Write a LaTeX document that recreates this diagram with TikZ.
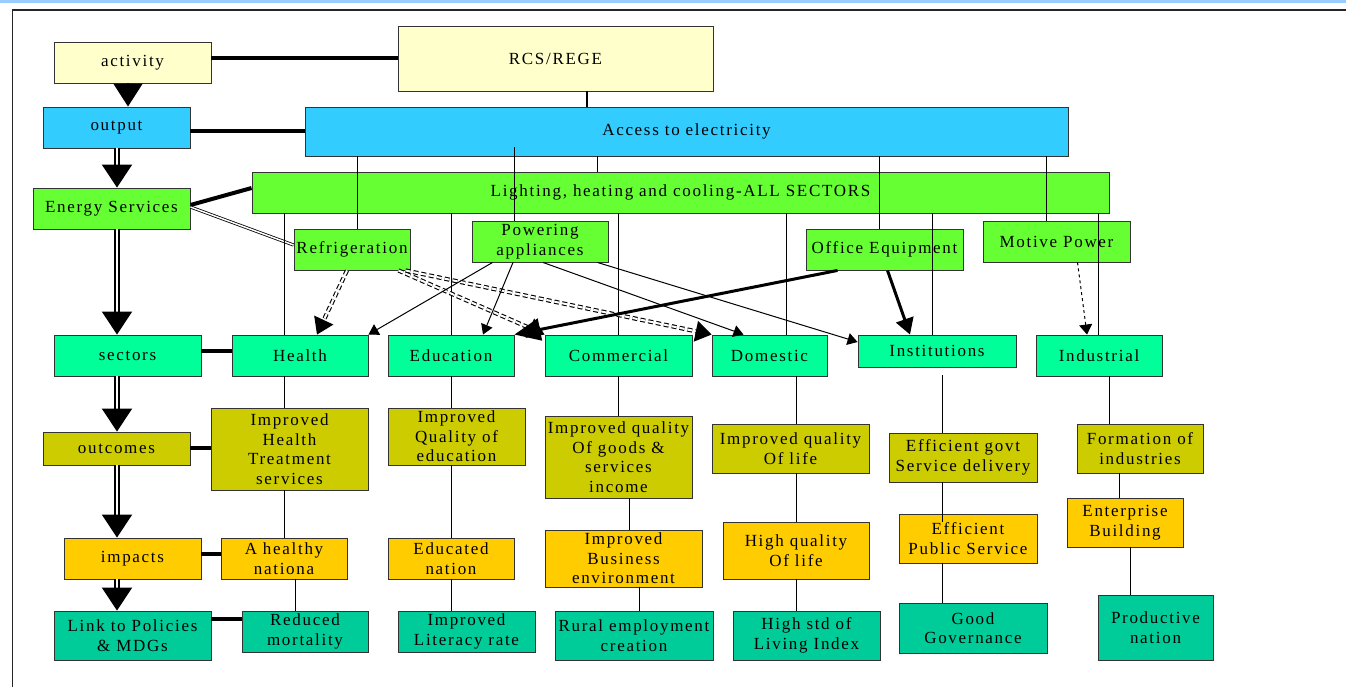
\documentclass[tikz,border=0pt]{standalone}
\usepackage{fontspec}
\setmainfont[LetterSpace=10]{Liberation Serif}
\usetikzlibrary{arrows.meta,calc}

\definecolor{paleyel}{HTML}{FFFFCC}
\definecolor{skyblue}{HTML}{33CCFF}
\definecolor{limegr}{HTML}{66FF33}
\definecolor{mintgr}{HTML}{00FF99}
\definecolor{olive}{HTML}{CCCC00}
\definecolor{amber}{HTML}{FFCC00}
\definecolor{teal}{HTML}{00CC99}
\definecolor{stripe}{HTML}{99CCFF}

\begin{document}
\begin{tikzpicture}[x=1pt, y=-1pt,
  box/.style={draw=black!80, line width=0.9pt, inner sep=0pt, align=center,
    font=\fontsize{17}{19.5}\selectfont},
  sz/.style 2 args={minimum width=#1pt, minimum height=#2pt},
  fat/.style={line width=4.5pt},
  thin/.style={line width=1pt},
  down/.style={double, double distance=2pt, line width=2.2pt,
    -{Triangle[width=30pt,length=23pt]}},
  ddash/.style={double, double distance=2pt, line width=1.1pt,
    dash pattern=on 5pt off 3pt}]

\useasboundingbox (0,0) rectangle (1346,686);

%% frame
\fill[stripe] (0,0) rectangle (1346,3);
\draw[line width=2pt, black!85] (12,9.5) -- (1346,9.5);
\draw[line width=1.3pt, black!85] (12.5,9) -- (12.5,700);

%% top rows
\node[box, fill=paleyel, sz={157}{41}] (activity) at (132.5,62.5) {activity};
\node[box, fill=paleyel, sz={315}{65}] (rcs) at (555.5,58.5) {RCS/REGE};
\node[box, fill=skyblue, sz={147}{41}] (output) at (116.5,127.5) {output};
\node[box, fill=skyblue, sz={763}{49}] (access) at (686.5,131.5) {Access to electricity};
\node[box, fill=limegr, sz={157}{41}] (energy) at (111.5,208.5) {Energy Services};
\node[box, fill=limegr, sz={857}{41}] (light) at (680.5,192.5)
  {Lighting, heating and cooling-ALL SECTORS};
\node[box, fill=limegr, sz={116}{41}] (refrig) at (352,249.5) {Refrigeration};
\node[box, fill=limegr, sz={136}{41}] (power) at (540,241.5) {Powering\\appliances};
\node[box, fill=limegr, sz={157}{41}] (office) at (884.5,249.5) {Office Equipment};
\node[box, fill=limegr, sz={147}{41}] (motive) at (1056.5,241.5) {Motive Power};

%% sectors
\node[box, fill=mintgr, sz={147}{41}] (sectors) at (127.5,355.5) {sectors};
\node[box, fill=mintgr, sz={136}{41}] (health) at (300,355.5) {Health};
\node[box, fill=mintgr, sz={126}{41}] (educ) at (451,355.5) {Education};
\node[box, fill=mintgr, sz={147}{41}] (comm) at (618.5,355.5) {Commercial};
\node[box, fill=mintgr, sz={115}{41}] (domes) at (769.5,355.5) {Domestic};
\node[box, fill=mintgr, sz={158}{32}] (instit) at (937,351) {Institutions};
\node[box, fill=mintgr, sz={126}{41}] (indus) at (1099,355.5) {Industrial};

%% outcomes
\node[box, fill=olive, sz={147}{33}] (outcomes) at (116.5,448.5) {outcomes};
\node[box, fill=olive, sz={157}{82}] (ohealth) at (289.5,449)
  {Improved\\Health\\Treatment\\services};
\node[box, fill=olive, sz={137}{57}] (oeduc) at (456.5,436.5)
  {Improved\\Quality of\\education};
\node[box, fill=olive, sz={147}{82}] (ocomm) at (618.5,457)
  {Improved quality\\Of goods \&\\services\\income};
\node[box, fill=olive, sz={157}{49}] (odomes) at (790.5,448.5)
  {Improved quality\\Of life};
\node[box, fill=olive, sz={148}{49}] (oinstit) at (963,457.5)
  {Efficient govt\\Service delivery};
\node[box, fill=olive, sz={126}{49}] (oindus) at (1140,448.5)
  {Formation of\\industries};

%% impacts
\node[box, fill=amber, sz={137}{41}] (impacts) at (132.5,558.5) {impacts};
\node[box, fill=amber, sz={126}{41}] (ihealth) at (284,558.5) {A healthy\\nationa};
\node[box, fill=amber, sz={126}{41}] (ieduc) at (451,558.5) {Educated\\nation};
\node[box, fill=amber, sz={157}{57}] (icomm) at (623.5,558.5)
  {Improved\\Business\\environment};
\node[box, fill=amber, sz={146}{57}] (idomes) at (796,550.5) {High quality\\Of life};
\node[box, fill=amber, sz={138}{49}] (iinstit) at (968,538.5)
  {Efficient\\Public Service};
\node[box, fill=amber, sz={116}{49}] (iindus) at (1125,522.5) {Enterprise\\Building};

%% links
\node[box, fill=teal, sz={157}{49}] (link) at (132.5,635.5)
  {Link to Policies\\\& MDGs};
\node[box, fill=teal, sz={126}{41}] (lhealth) at (305,631.5) {Reduced\\mortality};
\node[box, fill=teal, sz={137}{41}] (leduc) at (466.5,631.5) {Improved\\Literacy rate};
\node[box, fill=teal, sz={158}{49}] (lcomm) at (634,635.5)
  {Rural employment\\creation};
\node[box, fill=teal, sz={147}{49}] (ldomes) at (806.5,635.5)
  {High std of\\Living Index};
\node[box, fill=teal, sz={148}{50}] (linstit) at (973,628) {Good\\Governance};
\node[box, fill=teal, sz={115}{65}] (lindus) at (1155.5,627.5) {Productive\\nation};

%% left chain
\draw[line width=2pt, -{Triangle[width=29pt,length=23pt]}]
  (activity.south -| 128,0) -- (output.north -| 128,0);
\draw[down] (output.south -| 117,0) -- (energy.north -| 117,0);
\draw[down] (energy.south -| 117,0) -- (sectors.north -| 117,0);
\draw[down] (sectors.south -| 117,0) -- (outcomes.north -| 117,0);
\draw[down] (outcomes.south -| 117,0) -- (impacts.north -| 117,0);
\draw[down] (impacts.south -| 117,0) -- (link.north -| 117,0);

\draw[fat] (activity.east |- 0,58) -- (rcs.west |- 0,58);
\draw[fat] (output.east |- 0,131) -- (access.west |- 0,131);
\draw[line width=4pt] (energy.east |- 0,205) -- (light.west |- 0,188);
\draw[double, double distance=1.5pt, line width=0.8pt]
  (energy.east |- 0,207) -- (refrig.west |- 0,245);
\draw[fat] (sectors.east |- 0,351) -- (health.west |- 0,351);
\draw[fat] (outcomes.east |- 0,448) -- (ohealth.west |- 0,448);
\draw[fat] (impacts.east |- 0,554) -- (ihealth.west |- 0,554);
\draw[fat] (link.east |- 0,619) -- (lhealth.west |- 0,619);

%% tree lines
\draw[line width=2pt] (rcs.south -| 587,0) -- (access.north -| 587,0);
\draw[thin] (access.south -| 597,0) -- (light.north -| 597,0);
\draw[thin] (access.south -| 357,0) -- (refrig.north -| 357,0);
\draw[thin] ($(access.south -| 514,0)+(0,-9)$) -- (power.north -| 514,0);
\draw[thin] (access.south -| 879,0) -- (office.north -| 879,0);
\draw[thin] (access.south -| 1046,0) -- (motive.north -| 1046,0);
\draw[thin] (light.south -| 284,0) -- (health.north -| 284,0);
\draw[thin] (light.south -| 451,0) -- (educ.north -| 451,0);
\draw[thin] (light.south -| 618,0) -- (comm.north -| 618,0);
\draw[thin] (light.south -| 786,0) -- (domes.north -| 786,0);
\draw[thin] (light.south -| 932,0) -- (instit.north -| 932,0);
\draw[thin] (light.south -| 1098,0) -- (indus.north -| 1098,0);

\draw[thin] (health.south -| 284,0) -- (ohealth.north -| 284,0);
\draw[thin] (ohealth.south -| 284,0) -- (ihealth.north -| 284,0);
\draw[thin] (ihealth.south -| 295,0) -- (lhealth.north -| 295,0);
\draw[thin] (educ.south -| 451,0) -- (oeduc.north -| 451,0);
\draw[thin] (oeduc.south -| 451,0) -- (ieduc.north -| 451,0);
\draw[thin] (ieduc.south -| 451,0) -- (leduc.north -| 451,0);
\draw[thin] (comm.south -| 618,0) -- (ocomm.north -| 618,0);
\draw[thin] (ocomm.south -| 629,0) -- (icomm.north -| 629,0);
\draw[thin] (icomm.south -| 639,0) -- (lcomm.north -| 639,0);
\draw[thin] (domes.south -| 796,0) -- (odomes.north -| 796,0);
\draw[thin] (odomes.south -| 796,0) -- (idomes.north -| 796,0);
\draw[thin] (idomes.south -| 796,0) -- (ldomes.north -| 796,0);
\draw[thin] ($(instit.south -| 942,0)+(0,8)$) -- (oinstit.north -| 942,0);
\draw[thin] (oinstit.south -| 942,0) -- ($(iinstit.north -| 942,0)+(0,8)$);
\draw[thin] (iinstit.south -| 942,0) -- (linstit.north -| 942,0);
\draw[thin] (indus.south -| 1109,0) -- (oindus.north -| 1109,0);
\draw[thin] (oindus.south -| 1119,0) -- (iindus.north -| 1119,0);
\draw[thin] (iindus.south -| 1130,0) -- (lindus.north -| 1130,0);

%% services to sectors
\draw[ddash, -{Triangle[width=21pt,length=16pt]}]
  ([xshift=-5pt]refrig.south) -- ([xshift=17pt]health.north);
\draw[ddash, -{Triangle[width=21pt,length=16pt]}]
  ([xshift=-12pt]refrig.south east) -- (comm.north west);
\draw[ddash, -{Triangle[width=21pt,length=16pt]}]
  ([xshift=-5pt]refrig.south east) -- (domes.north west);

\draw[thin, -{Triangle[width=12pt,length=10pt]}]
  ([xshift=21pt]power.south west) -- (health.north east);
\draw[thin, -{Triangle[width=12pt,length=10pt]}]
  ([xshift=-27pt]power.south) -- ([xshift=32pt]educ.north);
\draw[thin, -{Triangle[width=12pt,length=10pt]}]
  ([xshift=3pt]power.south) -- ([xshift=-26pt]domes.north);
\draw[thin, -{Triangle[width=12pt,length=10pt]}]
  ([xshift=-11pt]power.south east) -- ([yshift=9pt]instit.west);

\draw[line width=3pt, -{Triangle[width=22pt,length=26pt]}]
  ([xshift=-47pt]office.south) -- (educ.north east);
\draw[line width=3pt, -{Triangle[width=18pt,length=16pt]}]
  ([xshift=3pt]office.south) -- ([xshift=-27pt]instit.north);

\draw[thin, dashed, -{Triangle[width=13pt,length=10pt]}]
  ([xshift=21pt]motive.south) -- ([xshift=-12pt]indus.north);

\end{tikzpicture}
\end{document}
